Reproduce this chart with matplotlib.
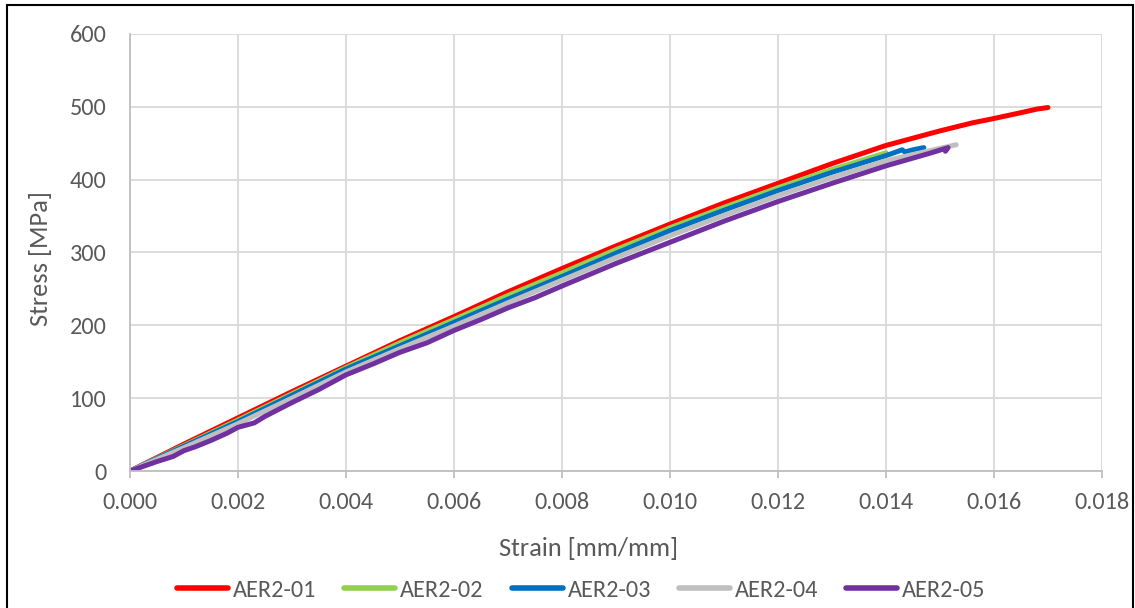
import matplotlib.pyplot as plt
from matplotlib.patches import Rectangle
from matplotlib.ticker import FormatStrFormatter

# strain [mm/mm] and stress [MPa]
strain_01 = [0.0, 0.001, 0.002, 0.003, 0.004, 0.005, 0.006, 0.007, 0.008, 0.009, 0.010,
             0.011, 0.012, 0.013, 0.014, 0.015, 0.0156, 0.016, 0.0165, 0.0168, 0.0170]
stress_01 = [0, 37, 73, 109, 144, 179, 212, 246, 278, 309, 339,
             368, 395, 422, 447, 467, 478, 484, 492, 497, 499]

strain_02 = [0.0, 0.001, 0.002, 0.003, 0.004, 0.005, 0.006, 0.007, 0.008, 0.009, 0.010,
             0.011, 0.012, 0.013, 0.0140]
stress_02 = [0, 35, 70, 106, 142, 176, 208, 241, 272, 304, 334,
             362, 389, 414, 437]

strain_03 = [0.0, 0.001, 0.002, 0.003, 0.004, 0.005, 0.006, 0.007, 0.008, 0.009, 0.010,
             0.011, 0.012, 0.013, 0.014, 0.0143, 0.01435, 0.0145, 0.0147]
stress_03 = [0, 34, 68, 104, 140, 172, 204, 236, 267, 299, 330,
             358, 385, 410, 433, 441, 438, 441, 444]

strain_04 = [0.0, 0.001, 0.002, 0.003, 0.004, 0.005, 0.006, 0.007, 0.008, 0.009, 0.010,
             0.011, 0.012, 0.013, 0.014, 0.015, 0.0153]
stress_04 = [0, 32, 65, 100, 136, 168, 199, 231, 262, 293, 323,
             351, 378, 403, 426, 443, 448]

strain_05 = [0.0, 0.0005, 0.0008, 0.001, 0.0012, 0.0015, 0.0018, 0.002, 0.0023, 0.0025,
             0.003, 0.0035, 0.004, 0.0045, 0.005, 0.0055, 0.006, 0.0065, 0.007, 0.0075,
             0.008, 0.009, 0.010, 0.011, 0.012, 0.013, 0.014, 0.0148, 0.01515, 0.0151]
stress_05 = [0, 13, 20, 28, 33, 42, 52, 60, 66, 75,
             94, 112, 132, 147, 163, 176, 193, 208, 224, 238,
             254, 285, 314, 343, 370, 395, 419, 436, 444, 439]

series = [
    ('AER2-01', strain_01, stress_01, '#ff0000'),
    ('AER2-02', strain_02, stress_02, '#92d050'),
    ('AER2-03', strain_03, stress_03, '#0070c0'),
    ('AER2-04', strain_04, stress_04, '#bfbfbf'),
    ('AER2-05', strain_05, stress_05, '#7030a0'),
]

fonts = ['Carlito', 'Liberation Sans Narrow', 'DejaVu Sans']
txt = '#595959'

fig = plt.figure(figsize=(11.35, 6.08), dpi=100)
ax = fig.add_axes([130 / 1135, 1 - 471 / 608, 972 / 1135, 437 / 608])

for name, x, y, c in series:
    ax.plot(x, y, color=c, lw=3.6, label=name, solid_capstyle='round')

ax.set_xlim(0, 0.018)
ax.set_ylim(0, 600)
ax.set_xticks([i * 0.002 for i in range(10)])
ax.set_yticks(range(0, 601, 100))
ax.xaxis.set_major_formatter(FormatStrFormatter('%.3f'))
ax.grid(color='#d9d9d9', lw=1.3)
ax.set_axisbelow(True)
for s in ['top', 'right']:
    ax.spines[s].set_visible(False)
for s in ['left', 'bottom']:
    ax.spines[s].set_color('#bfbfbf')
    ax.spines[s].set_linewidth(1.3)
ax.tick_params(axis='x', length=5, color='#bfbfbf', width=1.3, pad=10)
ax.tick_params(axis='y', length=0, pad=17)
for lab in ax.get_xticklabels() + ax.get_yticklabels():
    lab.set_family(fonts)
    lab.set_fontsize(17.5)
    lab.set_color(txt)

ax.set_xlabel('Strain [mm/mm]', family=fonts, fontsize=19, color=txt)
ax.set_ylabel('Stress [MPa]', family=fonts, fontsize=19, color=txt)
ax.xaxis.set_label_coords(0.472, -0.151)
ax.yaxis.set_label_coords(-0.08, 0.487)

leg = fig.legend(loc='center', bbox_to_anchor=(0.512, 1 - 590 / 608), ncol=5, frameon=False,
                 prop={'family': fonts, 'size': 17.5}, handlelength=2.1, handletextpad=0.2,
                 columnspacing=1.15)
for t in leg.get_texts():
    t.set_color(txt)
for h in leg.get_lines():
    h.set_linewidth(4)

fig.patches.append(Rectangle((7 / 1135, -0.01), 1126 / 1135, 1 - 5 / 608 + 0.01,
                             transform=fig.transFigure, fill=False, ec='black', lw=1.5))

fig.savefig('out.png', dpi=100)
